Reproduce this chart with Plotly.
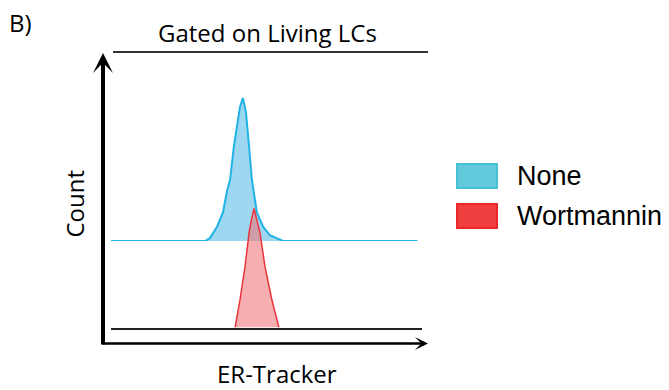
import plotly.graph_objects as go

# ---- data (ER-Tracker channel vs relative count, % of max) ----
series_names = ["None", "Wortmannin"]

none_channel = [0, 302, 318, 341, 360, 373, 383, 395, 405, 415, 424, 434, 444, 453, 469, 489, 511, 553, 985]
none_count   = [0, 0,   2,   10,  20,  35,  43,  66,  80,  94,  100, 90,  66,  43,  20,  10,  4,   0,   0]

wort_channel = [399, 415, 431, 444, 452, 460, 468, 479, 495, 517, 540]
wort_count   = [0,   19.6, 42.7, 66.4, 76, 83.2, 76, 66.4, 42.7, 19.6, 0]

x_label = "ER-Tracker"
y_label = "Count"
title_text = "Gated on Living LCs"
panel_label = "B)"

line_colors = ["#22b3e6", "#e8353d"]
fill_colors = ["rgba(125,202,235,0.75)", "rgba(242,120,125,0.6)"]
legend_fill = ["#62c9dd", "#ef3e3e"]
legend_line = ["#45c0d5", "#ec2727"]

W, H = 669, 390
def fx(px): return px / W
def fy(py): return 1 - py / H

fig = go.Figure()
fig.add_trace(go.Scatter(x=none_channel, y=none_count, name=series_names[0], mode="lines",
                         line=dict(color=line_colors[0], width=2), fill="tozeroy",
                         fillcolor=fill_colors[0], xaxis="x", yaxis="y", showlegend=False))
fig.add_trace(go.Scatter(x=wort_channel, y=wort_count, name=series_names[1], mode="lines",
                         line=dict(color=line_colors[1], width=1.5), fill="tozeroy",
                         fillcolor=fill_colors[1], xaxis="x", yaxis="y2", showlegend=False))

span = 171.6
fig.update_layout(
    width=W, height=H, margin=dict(l=0, r=0, t=0, b=0),
    paper_bgcolor="white", plot_bgcolor="rgba(0,0,0,0)",
    xaxis=dict(domain=[fx(111), fx(422)], range=[0, 1000], anchor="y2", showline=True,
               linecolor="#222", linewidth=1.5, showgrid=False, zeroline=False,
               showticklabels=False, ticks=""),
    yaxis=dict(domain=[fy(241), fy(241 - span)], range=[0, 120], anchor="x", visible=False),
    yaxis2=dict(domain=[fy(327.5), fy(327.5 - span)], range=[0, 120], anchor="x", visible=False),
)

shapes = [dict(type="line", xref="paper", yref="paper", x0=fx(113), x1=fx(428), y0=fy(52), y1=fy(52),
               line=dict(color="#333", width=2))]
for i in range(2):
    y0 = 164 + i * 40
    shapes.append(dict(type="rect", xref="paper", yref="paper", x0=fx(457), x1=fx(497),
                       y0=fy(y0), y1=fy(y0 + 24), fillcolor=legend_fill[i],
                       line=dict(color=legend_line[i], width=2)))
fig.update_layout(shapes=shapes)

ann = []
# axis arrows
ann.append(dict(xref="paper", yref="paper", x=fx(103), y=fy(53), axref="pixel", ayref="pixel",
                ax=0, ay=293, showarrow=True, arrowhead=3, arrowwidth=4, arrowsize=0.83,
                arrowcolor="black", text="", standoff=0))
ann.append(dict(xref="paper", yref="paper", x=fx(428), y=fy(343.5), axref="pixel", ayref="pixel",
                ax=-327, ay=0, showarrow=True, arrowhead=3, arrowwidth=2.5, arrowsize=0.88,
                arrowcolor="black", text="", standoff=0))
font_main = dict(family="Open Sans", size=24, color="black")
ann.append(dict(xref="paper", yref="paper", x=fx(7), y=fy(22), text=panel_label, showarrow=False,
                xanchor="left", yanchor="middle", font=font_main))
ann.append(dict(xref="paper", yref="paper", x=fx(267), y=fy(32), text=title_text, showarrow=False,
                xanchor="center", yanchor="middle", font=font_main))
ann.append(dict(xref="paper", yref="paper", x=fx(277), y=fy(373), text=x_label, showarrow=False,
                xanchor="center", yanchor="middle", font=font_main))
ann.append(dict(xref="paper", yref="paper", x=fx(74), y=fy(203.5), text=y_label, showarrow=False,
                textangle=-90, xanchor="center", yanchor="middle", font=font_main))
for i, nm in enumerate(series_names):
    ann.append(dict(xref="paper", yref="paper", x=fx(515), y=fy(176 + i * 39.5), text=nm, showarrow=False,
                    xanchor="left", yanchor="middle",
                    font=dict(family="Liberation Sans", size=27, color="black")))
fig.update_layout(annotations=ann)

fig.write_html("out.html", config={"displayModeBar": False},
               post_script="document.body.style.margin='0';document.body.style.overflow='hidden';")
